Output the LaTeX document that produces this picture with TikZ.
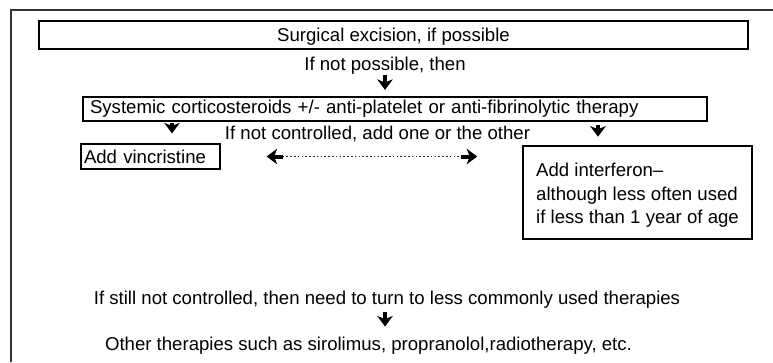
\documentclass[tikz,border=0pt]{standalone}
\usepackage{fontspec}
\setmainfont{Liberation Sans}
\usetikzlibrary{arrows.meta}
\begin{document}
\begin{tikzpicture}[x=1pt,y=-1pt,
  every node/.style={font=\fontsize{18.6}{23.4}\selectfont, inner sep=0pt},
  box/.style={draw, line width=1.2pt, text height=13.6pt},
  lbl/.style={anchor=base},
  bigarrow/.style={line width=4pt, -{Stealth[length=10.5pt,width=15.5pt,inset=3pt]}},
  dotline/.style={line width=1.5pt, dash pattern=on 1.6pt off 2.2pt, black!85}]
\useasboundingbox (0,0) rectangle (773,362);
% outer frame
\draw[line width=1.6pt, black!80] (11,362) -- (11,10) -- (773,10);
% boxes
\node[box, minimum width=709pt, minimum height=28pt, text depth=0.6pt] (b1) at (393.5,35) {Surgical excision, if possible};
\node[lbl] (t1) at (385,70) {If not possible, then};
\node[box, minimum height=24pt, text width=610pt, align=left, inner xsep=7pt, text depth=5pt] (b2) at (395,109) {Systemic corticosteroids +/- anti-platelet or anti-fibrinolytic therapy};
\node[lbl] (t2) at (377.5,139.3) {If not controlled, add one or the other};
\node[box, minimum height=25pt, text width=133pt, align=left, inner xsep=3pt, text depth=0pt] (b3) at (150.5,156.5) {Add vincristine};
\node[draw, line width=1.6pt, minimum width=229pt, minimum height=93pt, align=left] (b4) at (637.5,192.5) {\rule{0pt}{18.9pt}Add interferon–\\although less often used\\if less than 1 year of age};
\node[lbl] (t3) at (387,304) {If still not controlled, then need to turn to less commonly used therapies};
\node[lbl] (t4) at (368.5,350.7) {Other therapies such as sirolimus, propranolol,radiotherapy, etc.};
% arrow columns
\coordinate (c1) at (385,0);
\coordinate (c2) at (172,0);
\coordinate (c3) at (598,0);
% vertical arrows
\draw[bigarrow, shorten <=1pt, shorten >=6.5pt] (t1.south -| c1) -- (b2.north -| c1);
\draw[bigarrow, shorten <=1pt, shorten >=10pt] (b2.south -| c2) -- (b3.north -| c2);
\draw[bigarrow, shorten <=3pt, shorten >=8.5pt] (b2.south -| c3) -- (b4.north -| c3);
\draw[bigarrow, shorten <=3.5pt, shorten >=10.5pt] (t3.south -| c1) -- (t4.north -| c1);
% dotted double arrow between the two options
\coordinate (dl) at ([xshift=62pt]b3.east);
\coordinate (dr) at ([xshift=-61pt]b3.east -| b4.west);
\draw[dotline] (dl) -- (dr);
\draw[bigarrow] (dl) -- ([xshift=46pt]b3.east);
\draw[bigarrow] (dr) -- ([xshift=-45pt]b3.east -| b4.west);
\end{tikzpicture}
\end{document}
